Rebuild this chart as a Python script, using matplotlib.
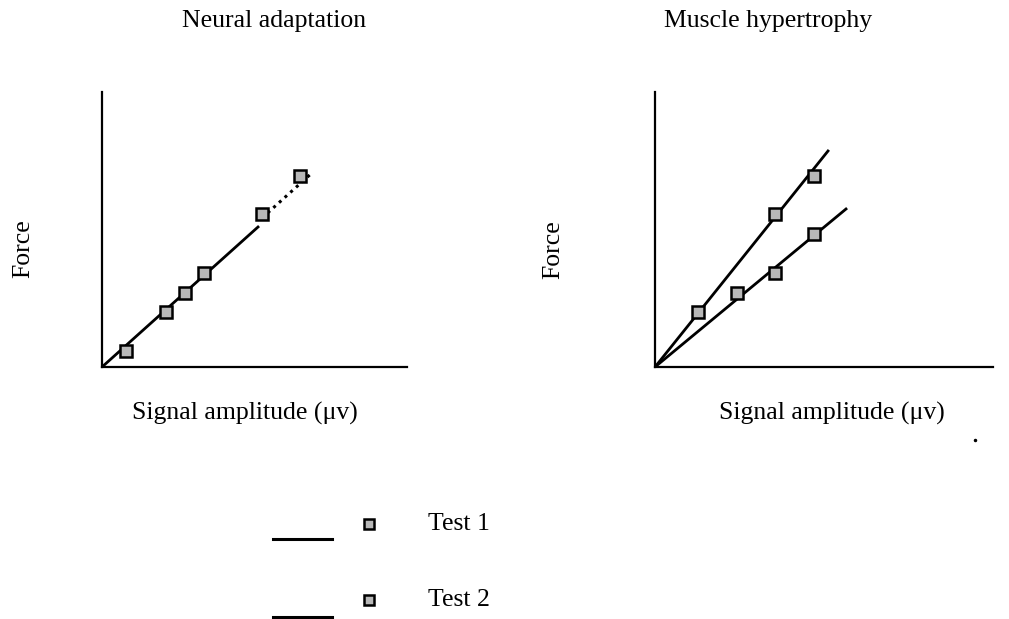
import matplotlib.pyplot as plt
from matplotlib.lines import Line2D

plt.rcParams['font.family'] = ['Liberation Serif', 'DejaVu Serif']

# Neural adaptation: one test series, solid fit then dotted extension
neural_x = [2.4, 6.4, 8.3, 10.2, 16.0, 19.8]
neural_y = [1.6, 5.5, 7.4, 9.4, 15.3, 19.1]
neural_solid_x = [0.0, 15.6]
neural_solid_y = [0.0, 14.0]
neural_dotted_x = [16.0, 21.1]
neural_dotted_y = [14.9, 19.5]

# Muscle hypertrophy: two test series
hyper_t1_x = [4.3, 12.0, 15.9]
hyper_t1_y = [5.5, 15.3, 19.1]
hyper_t1_line_x = [0.0, 17.3]
hyper_t1_line_y = [0.0, 21.6]
hyper_t2_x = [8.2, 12.0, 15.9]
hyper_t2_y = [7.4, 9.4, 13.3]
hyper_t2_line_x = [0.0, 19.1]
hyper_t2_line_y = [0.0, 15.8]

legend_labels = ["Test 1", "Test 2"]

MARKER = dict(marker='s', markersize=9, markerfacecolor='#b8b8b8',
              markeredgecolor='black', markeredgewidth=1.8, linestyle='none')
FS = 18.5

fig = plt.figure(figsize=(10.09, 6.19), dpi=100)
fig.patch.set_facecolor('white')

ax1 = fig.add_axes([102 / 1009, 1 - 367 / 619, 305 / 1009, 275 / 619])
ax2 = fig.add_axes([655 / 1009, 1 - 367 / 619, 338 / 1009, 275 / 619])

ax1.plot(neural_solid_x, neural_solid_y, color='black', lw=2)
ax1.plot(neural_dotted_x, neural_dotted_y, color='black', lw=2.2, linestyle=(0, (1, 1.5)))
ax1.plot(neural_x, neural_y, **MARKER)
ax1.set_xlim(0, 30.5)
ax1.set_ylim(0, 27.5)

ax2.plot(hyper_t1_line_x, hyper_t1_line_y, color='black', lw=2)
ax2.plot(hyper_t2_line_x, hyper_t2_line_y, color='black', lw=2)
ax2.plot(hyper_t1_x, hyper_t1_y, **MARKER)
ax2.plot(hyper_t2_x, hyper_t2_y, **MARKER)
ax2.set_xlim(0, 33.8)
ax2.set_ylim(0, 27.5)

for ax in (ax1, ax2):
    for s in ('top', 'right'):
        ax.spines[s].set_visible(False)
    for s in ('left', 'bottom'):
        ax.spines[s].set_linewidth(1.6)
    ax.set_xticks([])
    ax.set_yticks([])
    ax.patch.set_alpha(0)

# titles and axis labels
fig.text(274 / 1009, 1 - 21 / 619, "Neural adaptation", ha='center', va='center', fontsize=FS)
fig.text(768 / 1009, 1 - 21 / 619, "Muscle hypertrophy", ha='center', va='center', fontsize=FS)
fig.text(245 / 1009, 1 - 413 / 619, "Signal amplitude (\u03bcv)", ha='center', va='center', fontsize=FS)
fig.text(832 / 1009, 1 - 413 / 619, "Signal amplitude (\u03bcv)", ha='center', va='center', fontsize=FS)
fig.text(23 / 1009, 1 - 249 / 619, "Force", ha='center', va='center', rotation=90, fontsize=FS)
fig.text(553 / 1009, 1 - 250 / 619, "Force", ha='center', va='center', rotation=90, fontsize=FS)

# hand-drawn legend below the panels
rows_y = [524, 600]
lines_y = [539, 617]
for lab, ry, ly in zip(legend_labels, rows_y, lines_y):
    fig.add_artist(Line2D([273 / 1009, 332 / 1009], [1 - ly / 619, 1 - ly / 619],
                          color='black', lw=2.2))
    fig.add_artist(Line2D([369 / 1009], [1 - ry / 619], marker='s', markersize=7,
                          markerfacecolor='#b8b8b8', markeredgecolor='black',
                          markeredgewidth=1.8, linestyle='none'))
    fig.text(428 / 1009, 1 - ry / 619, lab, ha='left', va='center', fontsize=FS)

# stray dot on the original scan
fig.add_artist(Line2D([975 / 1009], [1 - 440 / 619], marker='o', markersize=1.5,
                      color='black', linestyle='none'))

fig.savefig('out.png', dpi=100)
